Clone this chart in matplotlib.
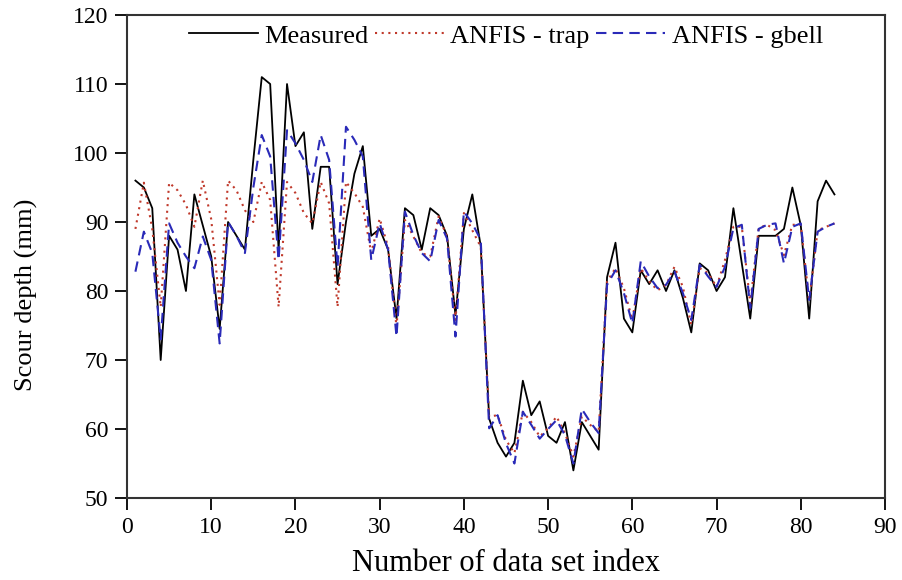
import numpy as np
import matplotlib

matplotlib.use("Agg")
import matplotlib.pyplot as plt  # noqa: E402

# scour depth (mm) per data set index
measured = [96, 95, 92, 70, 88, 86, 80, 94, 89.5, 85,
            74.5, 90, 88, 86, 99, 111, 110, 86, 110, 101,
            103, 89, 98, 98, 81, 90, 97, 101, 88, 89,
            86, 76, 92, 91, 86, 92, 91, 88, 76.5, 89,
            94, 86.5, 61.5, 58, 56, 58, 67, 62, 64, 59,
            58, 61, 54, 61, 59, 57, 82, 87, 76, 74,
            83, 81, 83, 80, 83, 79, 74, 84, 83, 80,
            82, 92, 84, 76, 88, 88, 88, 89, 95, 89.5,
            76, 93, 96, 94]
anfis_trap = [89, 95.7, 89, 77.7, 95.7, 94.6, 92.5, 89.3, 96, 90.4,
              78, 96, 94.6, 91.7, 90, 95.8, 93.2, 77.7, 95.8, 94.2,
              91.3, 89.8, 95.8, 92.7, 77.7, 95.8, 94.2, 92.2, 85.5, 90.5,
              86.4, 74.8, 90.3, 87.9, 85.5, 85, 90.8, 87.9, 75.8, 91.3,
              88.8, 86.4, 61.8, 62, 58.4, 56.5, 62.5, 61, 58.9, 60.1,
              61.8, 59.4, 56, 61.8, 60.6, 59.6, 81.4, 83.3, 80.4, 75.8,
              83.3, 81.4, 80.1, 80.9, 83.5, 80.6, 75.1, 83.3, 82.6, 80.6,
              84.5, 89.3, 89.3, 78.2, 89.1, 89.6, 88.8, 85.2, 89.6, 89.6,
              78.5, 88.8, 89.3, 89.8]
anfis_gbell = [82.8, 88.6, 85.5, 73, 89.8, 87, 85, 83.3, 87.9, 84.5,
               72.4, 90, 88, 85.5, 95, 102.6, 99.5, 84.5, 103.3, 101.4,
               99, 95.8, 102.6, 99, 83.5, 103.8, 101.9, 99.5, 84.5, 89.8,
               86, 73.4, 91.5, 88.1, 85.5, 84.3, 90.3, 87.6, 73.4, 91.5,
               89.8, 87.4, 60.1, 62, 57.9, 55, 62.5, 60.6, 58.6, 60,
               61.3, 59.1, 55, 62.9, 61, 59.4, 80.9, 83, 79.7, 75.3,
               84.3, 82.1, 80.4, 80.9, 82.8, 79.7, 75.8, 83.8, 82.1, 80.6,
               83.5, 89.1, 89.6, 77.5, 89, 89.6, 89.8, 84, 89.3, 89.8,
               78.7, 88.6, 89.3, 89.8]
index = np.arange(1, len(measured) + 1)

plt.rcParams["font.family"] = ["Liberation Serif", "DejaVu Serif"]

fig = plt.figure(figsize=(9.02, 5.80), dpi=100)
ax = fig.add_axes([127 / 902, 82 / 580, 758 / 902, 483 / 580])

ax.plot(index, measured, color="black", lw=1.3, label="Measured")
ax.plot(index, anfis_trap, color="#c0392b", lw=1.5, ls=(0, (1, 2.2)),
        label="ANFIS - trap")
ax.plot(index, anfis_gbell, color="#2a2ab8", lw=1.5, ls=(0, (5, 3)),
        label="ANFIS - gbell")

ax.set_xlim(0, 90)
ax.set_ylim(50, 120)
ax.set_xticks(range(0, 91, 10))
ax.set_yticks(range(50, 121, 10))
ax.tick_params(direction="out", length=8.5, width=1.3, labelsize=17,
               top=False, right=False)
ax.tick_params(axis="x", pad=5)
ax.tick_params(axis="y", pad=5)
for sp in ax.spines.values():
    sp.set_linewidth(1.5)
    sp.set_color("#333333")

ax.set_xlabel("Number of data set index", fontsize=22, labelpad=8)
ax.set_ylabel("Scour depth (mm)", fontsize=19)
ax.yaxis.set_label_coords(-0.118, 0.42)

ax.legend(loc="upper center", ncol=3, frameon=False, fontsize=19,
          handlelength=2.6, handletextpad=0.25, columnspacing=0.25,
          bbox_to_anchor=(0.5, 1.03))

fig.savefig("out.png", dpi=100)
